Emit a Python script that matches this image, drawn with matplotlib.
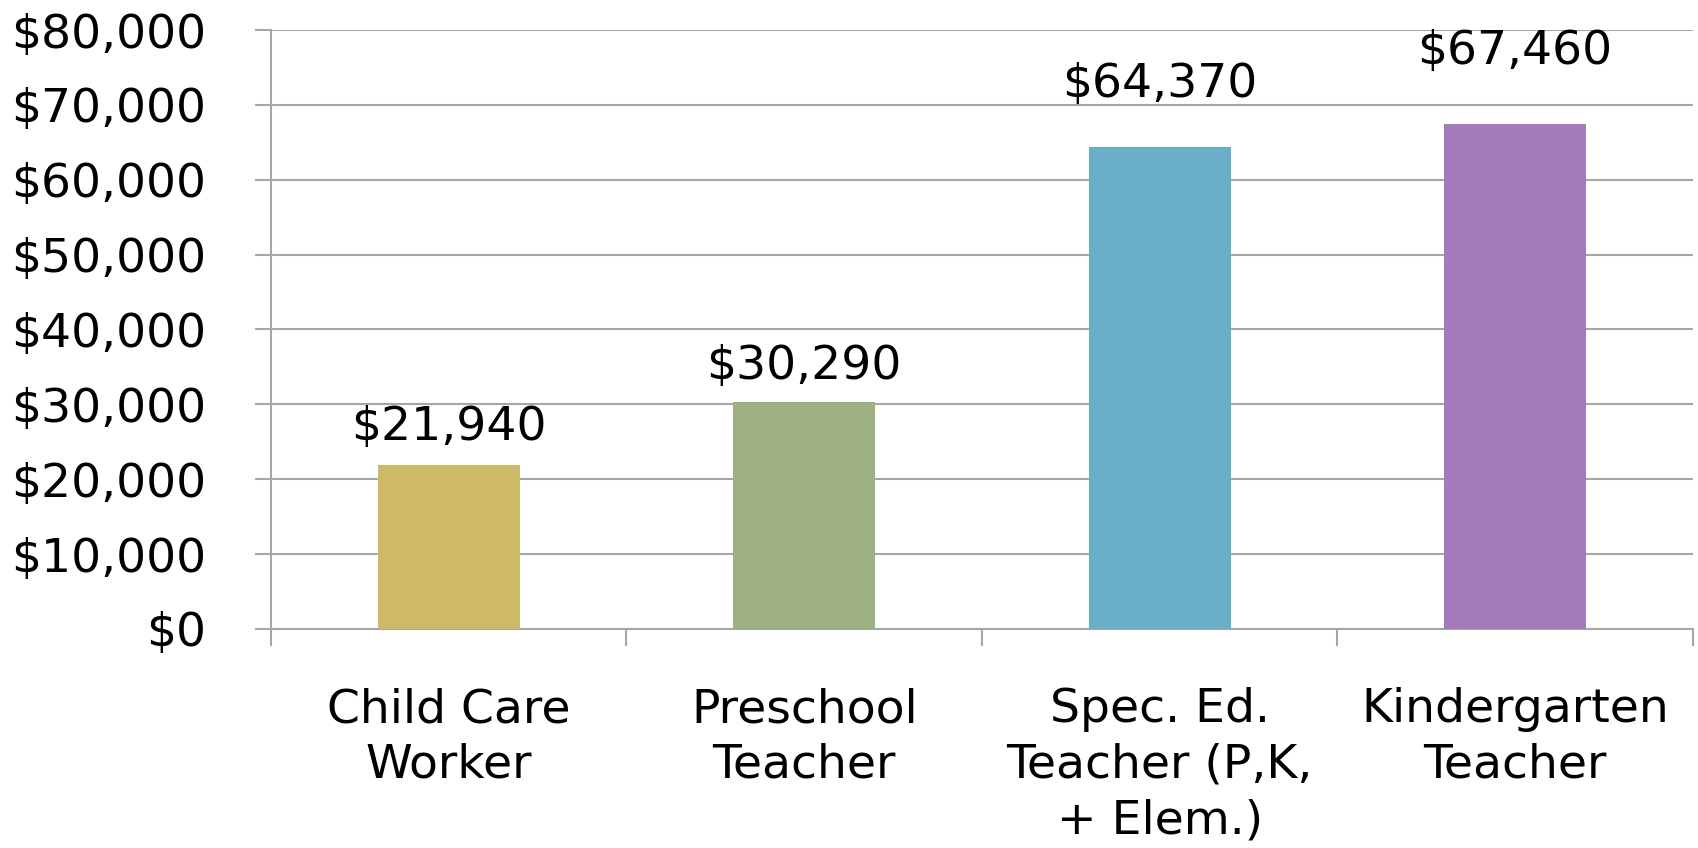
import numpy as np
import matplotlib
matplotlib.use('Agg')
import matplotlib.pyplot as plt
from matplotlib.ticker import FuncFormatter

categories = ['Child Care\nWorker', 'Preschool\nTeacher',
              'Spec. Ed.\nTeacher (P,K,\n+ Elem.)', 'Kindergarten\nTeacher']
wages = [21940, 30290, 64370, 67460]
colors = ['#CDB967', '#9CB084', '#6AAFCA', '#A37BBA']
yticks = np.arange(0, 80001, 10000)
# label offset above each bar, in points (labels are not evenly spaced in the source)
label_offsets = [27, 26, 45, 52]

plt.rcParams['font.family'] = ['DejaVu Sans']
grey = '#A6A6A6'

fig = plt.figure(figsize=(16.98, 8.48), dpi=100)
ax = fig.add_axes([0.1596, 0.2583, 0.997 - 0.1596, 0.9646 - 0.2583])

x = np.arange(len(categories))
ax.bar(x, wages, width=0.4, color=colors, zorder=3)
for xi, v, off in zip(x, wages, label_offsets):
    ax.annotate('${:,}'.format(v), (xi, v), xytext=(0, off), textcoords='offset points',
                ha='center', va='center', fontsize=34)

ax.set_xlim(-0.5, len(categories) - 0.5)
ax.set_ylim(0, 80000)
ax.set_yticks(yticks)
ax.yaxis.set_major_formatter(FuncFormatter(lambda v, p: '${:,.0f}'.format(v)))
ax.grid(axis='y', color=grey, lw=1.5, zorder=0)

ax.set_xticks(x)
ax.set_xticklabels(categories, fontsize=34, linespacing=1.3)
ax.set_xticks(np.arange(-0.5, len(categories)), minor=True)
ax.tick_params(axis='x', which='major', length=0, pad=42)
ax.tick_params(axis='x', which='minor', length=12, width=1.5, color=grey)
ax.tick_params(axis='y', length=11.5, width=1.5, color=grey, labelsize=34, pad=35)

for s in ['top', 'right']:
    ax.spines[s].set_visible(False)
for s in ['left', 'bottom']:
    ax.spines[s].set_color(grey)
    ax.spines[s].set_linewidth(1.5)

plt.savefig('out.png', dpi=100)
